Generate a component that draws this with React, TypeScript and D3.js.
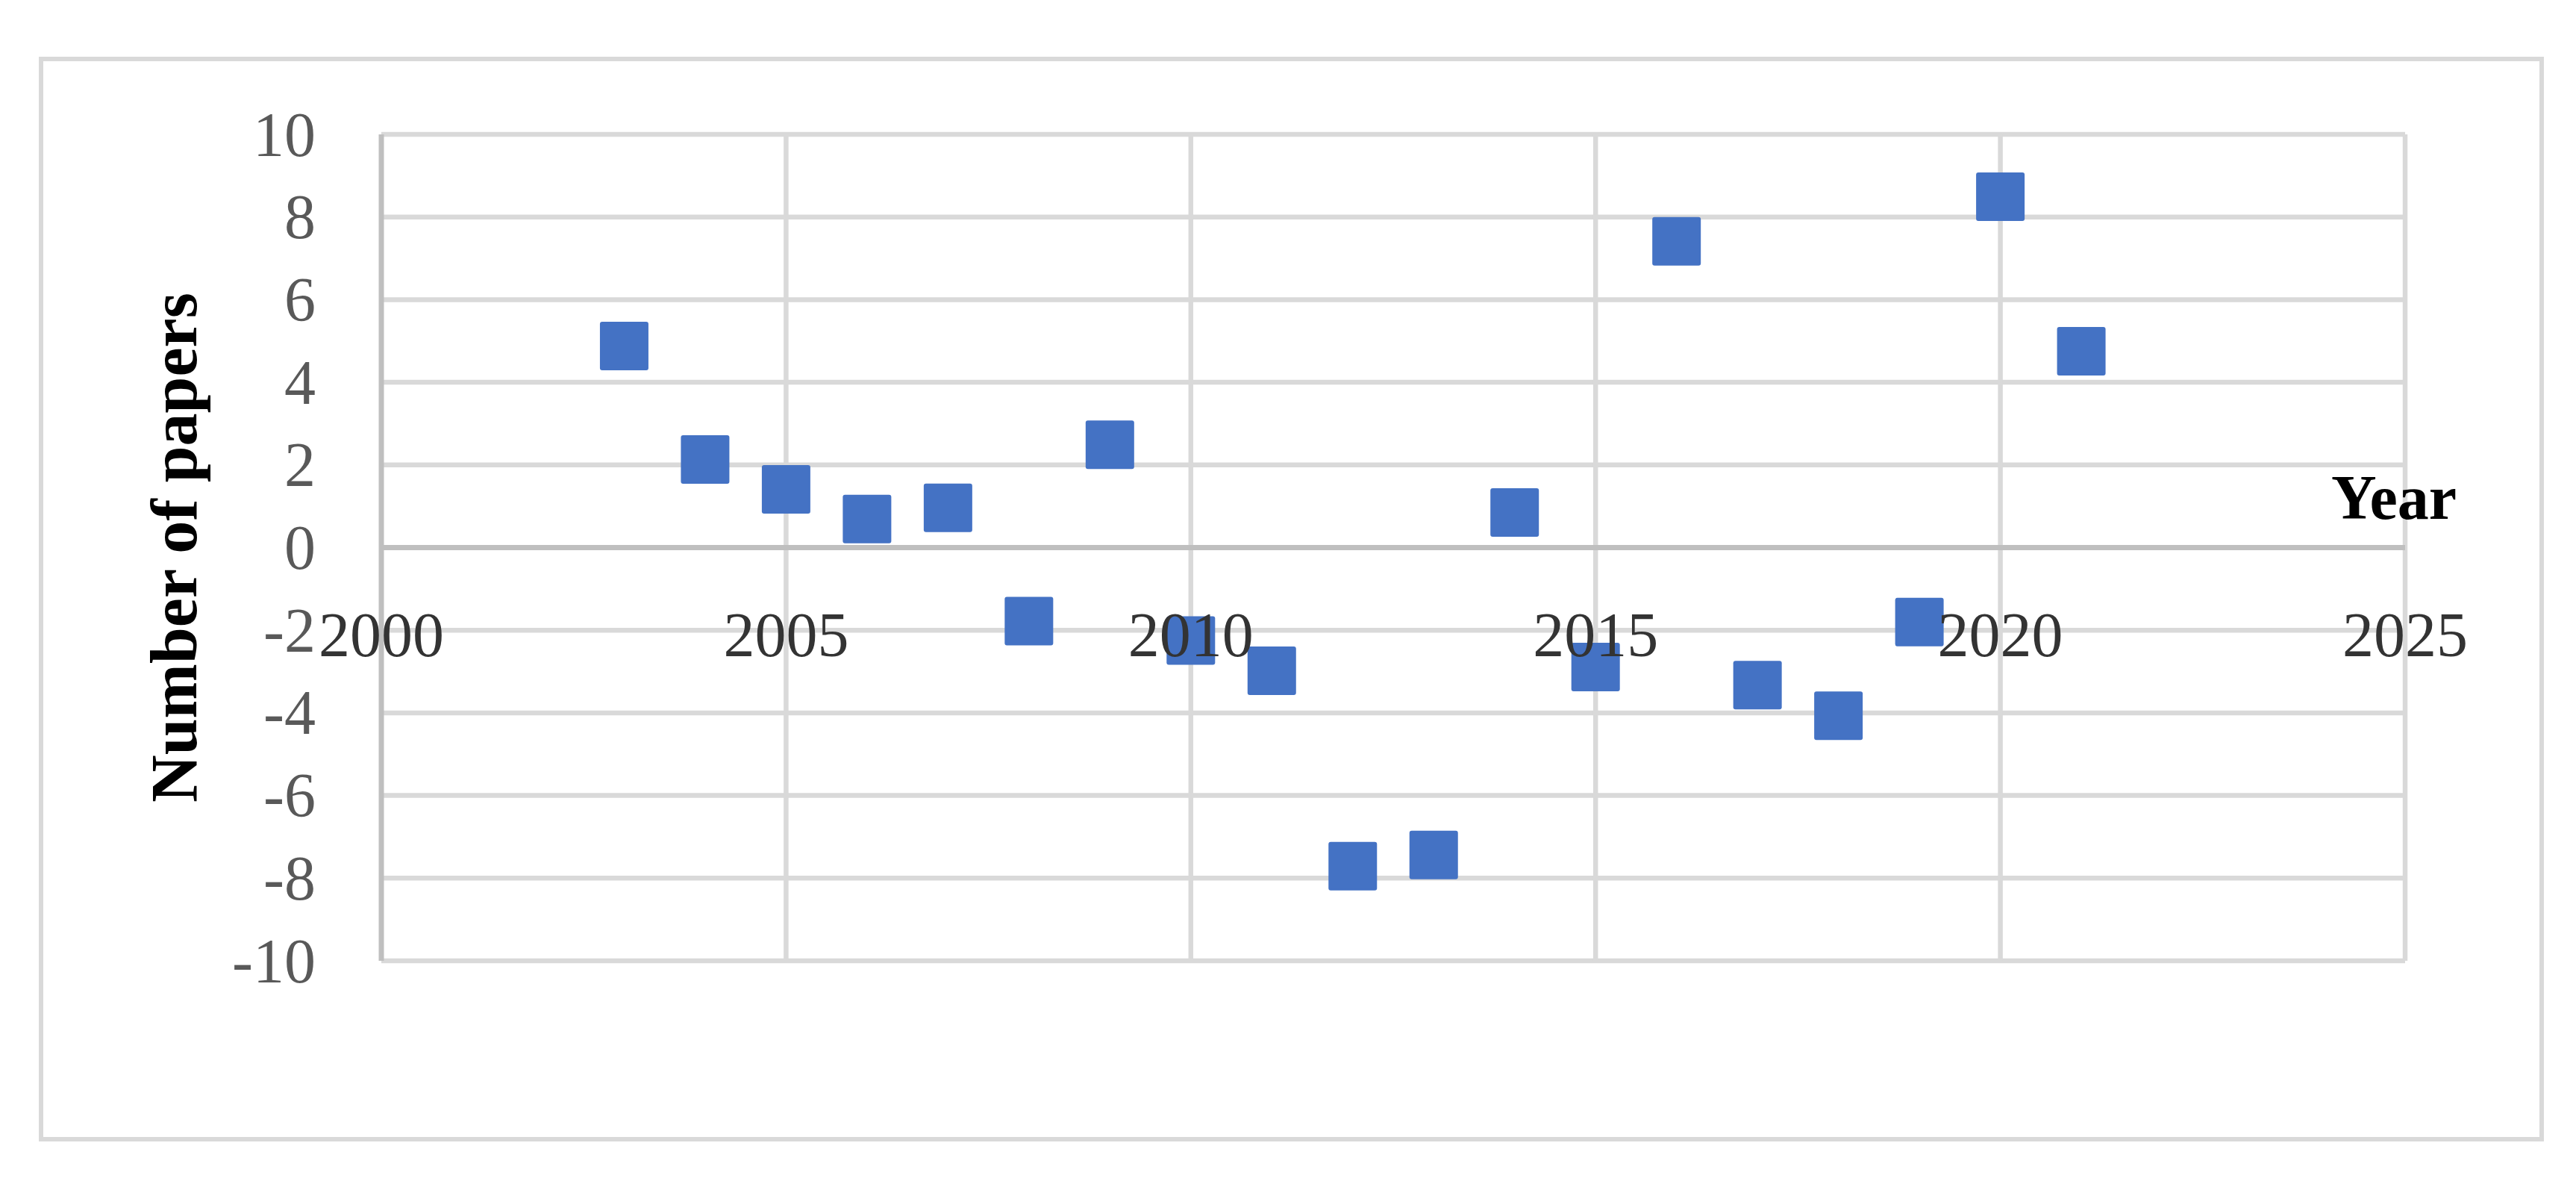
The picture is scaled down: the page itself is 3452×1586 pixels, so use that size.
import { useEffect, useRef } from "react";
import * as d3 from "d3";

const years = [2003, 2004, 2005, 2006, 2007, 2008, 2009, 2010, 2011, 2012, 2013, 2014, 2015, 2016, 2017, 2018, 2019, 2020, 2021];
const papers = [4.88, 2.13, 1.41, 0.69, 0.96, -1.78, 2.49, -2.25, -2.98, -7.71, -7.44, 0.85, -2.89, 7.41, -3.33, -4.07, -1.8, 8.49, 4.75];
const xTicks = [2000, 2005, 2010, 2015, 2020, 2025];
const yTicks = [-10, -8, -6, -4, -2, 0, 2, 4, 6, 8, 10];

export default function App() {
  const svgRef = useRef<SVGSVGElement>(null);

  useEffect(() => {
    if (!svgRef.current) return;
    d3.select(svgRef.current).selectAll("*").remove();

    const width = 3452;
    const height = 1586;
    const plot = { left: 511, right: 3223, top: 180, bottom: 1287 };
    const font = "'Liberation Serif', 'Times New Roman', serif";

    const svg = d3.select(svgRef.current)
      .attr("width", width)
      .attr("height", height)
      .attr("viewBox", `0 0 ${width} ${height}`)
      .style("font-family", font);

    svg.append("rect")
      .attr("width", width).attr("height", height).attr("fill", "#fff");

    // outer chart border
    svg.append("rect")
      .attr("x", 55).attr("y", 79)
      .attr("width", 3406 - 55).attr("height", 1526 - 79)
      .attr("fill", "none")
      .attr("stroke", "#d9d9d9")
      .attr("stroke-width", 6);

    const x = d3.scaleLinear().domain([2000, 2025]).range([plot.left, plot.right]);
    const y = d3.scaleLinear().domain([-10, 10]).range([plot.bottom, plot.top]);

    const g = svg.append("g");

    // horizontal gridlines
    g.selectAll(".hgrid")
      .data(yTicks.filter(d => d !== 0))
      .enter().append("line")
      .attr("x1", plot.left).attr("x2", plot.right)
      .attr("y1", d => y(d)).attr("y2", d => y(d))
      .attr("stroke", "#d9d9d9")
      .attr("stroke-width", 6.5);

    // vertical gridlines
    g.selectAll(".vgrid")
      .data(xTicks.filter(d => d !== 2000))
      .enter().append("line")
      .attr("x1", d => x(d)).attr("x2", d => x(d))
      .attr("y1", plot.top).attr("y2", plot.bottom)
      .attr("stroke", "#d9d9d9")
      .attr("stroke-width", 6.5);

    // axis lines
    g.append("line")
      .attr("x1", x(2000)).attr("x2", x(2000))
      .attr("y1", plot.top).attr("y2", plot.bottom)
      .attr("stroke", "#bfbfbf").attr("stroke-width", 7);
    g.append("line")
      .attr("x1", plot.left).attr("x2", plot.right)
      .attr("y1", y(0)).attr("y2", y(0))
      .attr("stroke", "#bfbfbf").attr("stroke-width", 7);

    // markers
    const size = 65;
    g.selectAll(".pt")
      .data(years.map((yr, i) => ({ yr, v: papers[i] })))
      .enter().append("rect")
      .attr("x", d => x(d.yr) - size / 2)
      .attr("y", d => y(d.v) - size / 2)
      .attr("width", size).attr("height", size)
      .attr("rx", 3)
      .attr("fill", "#4472c4");

    // y tick labels
    g.selectAll(".ylab")
      .data(yTicks)
      .enter().append("text")
      .attr("x", 423)
      .attr("y", d => y(d))
      .attr("dy", "0.34em")
      .attr("text-anchor", "end")
      .style("font-size", "84px")
      .style("fill", "#595959")
      .text(d => d);

    // x tick labels
    g.selectAll(".xlab")
      .data(xTicks)
      .enter().append("text")
      .attr("x", d => x(d))
      .attr("y", 879)
      .attr("text-anchor", "middle")
      .style("font-size", "84px")
      .style("fill", "#333333")
      .text(d => d);

    // axis titles
    svg.append("text")
      .attr("transform", `translate(263, ${(plot.top + plot.bottom) / 2}) rotate(-90)`)
      .attr("text-anchor", "middle")
      .style("font-size", "88px")
      .style("font-weight", "bold")
      .style("fill", "#000")
      .text("Number of papers");

    svg.append("text")
      .attr("x", 3292)
      .attr("y", 695)
      .attr("text-anchor", "end")
      .style("font-size", "84px")
      .style("font-weight", "bold")
      .style("fill", "#000")
      .text("Year");
  }, []);

  return (
    <svg ref={svgRef} style={{ position: "absolute", left: 0, top: 0, display: "block" }}></svg>
  );
}
